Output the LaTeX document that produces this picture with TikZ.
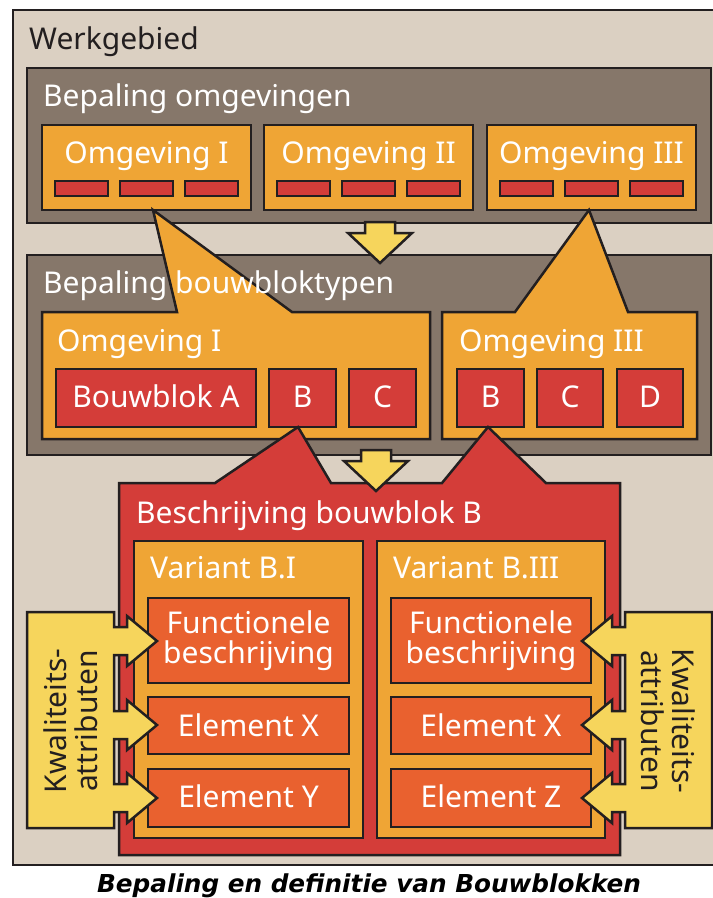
\documentclass[tikz,border=0pt]{standalone}
\usepackage{fontspec}
\setmainfont{Noto Sans}
\newfontfamily\capfont{DejaVu Sans}
\definecolor{beigeC}{HTML}{DBD0C2}
\definecolor{taupeC}{HTML}{86776A}
\definecolor{orangeC}{HTML}{EFA535}
\definecolor{redC}{HTML}{D43D39}
\definecolor{elemC}{HTML}{E9612F}
\definecolor{yellowC}{HTML}{F6D55C}
\definecolor{lnC}{HTML}{231F20}
\begin{document}
\begin{tikzpicture}[x=1pt,y=-1pt,
  bd/.style={draw=lnC,line width=2.5pt,line join=miter},
  wtxt/.style={text=white,inner sep=0pt,font=\fontsize{30}{30}\selectfont},
  dtxt/.style={text=lnC,inner sep=0pt,font=\fontsize{30}{31}\selectfont}]
\useasboundingbox (0,0) rectangle (713,898);
\clip (0,0) rectangle (713,898);
\fill[white] (0,0) rectangle (713,898);
% outer work area
\draw[fill=beigeC,draw=lnC,line width=2pt] (13,10) rectangle (740,865);
\node[dtxt,anchor=base west] (werk) at (29,49) {Werkgebied};
% level 1
\draw[bd,fill=taupeC] (27,68) rectangle (711,223);
\node[wtxt,anchor=base west] (bepom) at (43,106) {Bepaling omgevingen};
\foreach \x/\t/\n in {42/I/o1,264/II/o2,487/III/o3}{
  \draw[bd,fill=orangeC] (\x,125) rectangle ({\x+209},210);
  \node[wtxt,anchor=base] (\n) at ({\x+104.5},163) {Omgeving \t};
  \foreach \d in {13,78,143}
    \draw[bd,fill=redC] ({\x+\d},181) rectangle ({\x+\d+53},196);
}
% level 2
\draw[bd,fill=taupeC] (27,255) rectangle (711,455);
\draw[bd,fill=yellowC] (365,222) -- (395,222) -- (395,233) -- (412,233) -- (380,263) -- (348,233) -- (365,233) -- cycle;
\draw[bd,fill=orangeC] (42,312) -- (177,312) -- (153,210) -- (292,312) -- (430,312) -- (430,439) -- (42,439) -- cycle;
\draw[bd,fill=orangeC] (442,312) -- (515,312) -- (589,210) -- (628,312) -- (697,312) -- (697,439) -- (442,439) -- cycle;
\node[wtxt,anchor=base west] (bepbb) at (43,293) {Bepaling bouwbloktypen};
\node[wtxt,anchor=base west] (om1) at (57,351) {Omgeving I};
\node[wtxt,anchor=base west] (om3) at (459,351) {Omgeving III};
\foreach \a/\b/\t/\n in {56/256/Bouwblok A/ba,269/336/B/bb,349/416/C/bc,457/524/B/bb3,537/603/C/bc3,617/683/D/bd3}{
  \draw[bd,fill=redC] (\a,369) rectangle (\b,427);
  \node[wtxt,anchor=base] (\n) at ({(\a+\b)/2},407) {\t};
}
% level 3
\draw[bd,fill=redC] (119,483) -- (215,483) -- (298,427) -- (331,483) -- (442,483) -- (488,427) -- (546,483) -- (620,483) -- (620,855) -- (119,855) -- cycle;
\draw[bd,fill=yellowC] (361,450) -- (391,450) -- (391,461) -- (408,461) -- (376,491) -- (344,461) -- (361,461) -- cycle;
\node[wtxt,anchor=base west] (besch) at (136,523) {Beschrijving bouwblok B};
\draw[bd,fill=orangeC] (134,541) rectangle (363,838);
\draw[bd,fill=orangeC] (377,541) rectangle (605,838);
\node[wtxt,anchor=base west] (v1) at (150,578) {Variant B.I};
\node[wtxt,anchor=base west] (v3) at (393,578) {Variant B.III};
\foreach \a/\b/\s in {148/349/L,391/591/R}{
  \draw[bd,fill=elemC] (\a,598) rectangle (\b,683);
  \draw[bd,fill=elemC] (\a,697) rectangle (\b,754);
  \draw[bd,fill=elemC] (\a,769) rectangle (\b,827);
  \node[wtxt,align=center,anchor=center] (f\s) at ({(\a+\b)/2},641) {Functionele\\beschrijving};
}
\node[wtxt,anchor=base] (exl) at (248.5,736) {Element X};
\node[wtxt,anchor=base] (eyl) at (248.5,807) {Element Y};
\node[wtxt,anchor=base] (exr) at (491,736) {Element X};
\node[wtxt,anchor=base] (ezr) at (491,807) {Element Z};
% quality attributes
\draw[bd,fill=yellowC] (27,612) -- (114,612)
  -- (114,627) -- (127,627) -- (127,616) -- (157,641) -- (127,666) -- (127,655) -- (114,655)
  -- (114,711) -- (127,711) -- (127,700) -- (157,725) -- (127,750) -- (127,739) -- (114,739)
  -- (114,784) -- (127,784) -- (127,773) -- (157,798) -- (127,823) -- (127,812) -- (114,812)
  -- (114,828) -- (27,828) -- cycle;
\draw[bd,fill=yellowC] (712,612) -- (625,612)
  -- (625,627) -- (612,627) -- (612,616) -- (582,641) -- (612,666) -- (612,655) -- (625,655)
  -- (625,711) -- (612,711) -- (612,700) -- (582,725) -- (612,750) -- (612,739) -- (625,739)
  -- (625,784) -- (612,784) -- (612,773) -- (582,798) -- (612,823) -- (612,812) -- (625,812)
  -- (625,828) -- (712,828) -- cycle;
\node[dtxt,align=center,rotate=90] (kl) at (71,721) {Kwaliteits-\\attributen};
\node[dtxt,align=center,rotate=-90] (kr) at (668,721) {Kwaliteits-\\attributen};
% caption
\node[inner sep=0pt,anchor=base,font=\capfont\bfseries\itshape\fontsize{24.7}{28}\selectfont] (cap) at (369,892) {Bepaling en definitie van Bouwblokken};
\end{tikzpicture}
\end{document}
